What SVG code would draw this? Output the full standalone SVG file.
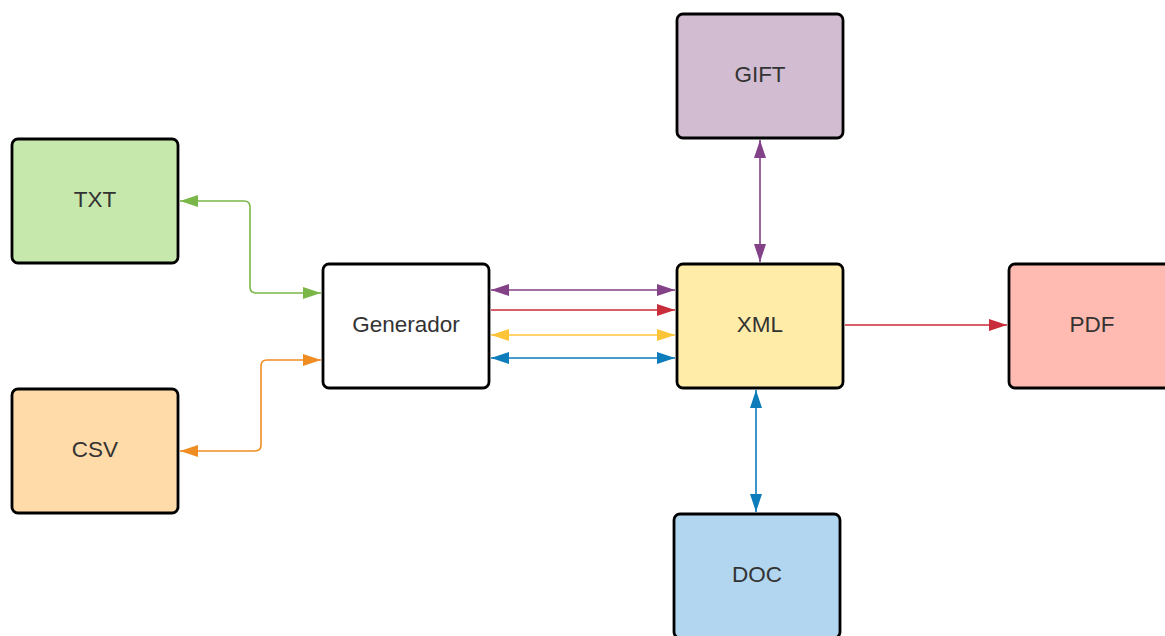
<svg xmlns="http://www.w3.org/2000/svg" width="1165" height="636" viewBox="0 0 1165 636">
<style>
.box{stroke:#000;stroke-width:2.8}
.lbl{font-family:"Liberation Sans",Arial,sans-serif;font-size:22.5px;fill:#333;text-anchor:middle;dominant-baseline:central}
.c{fill:none;stroke-width:1.6}
</style>
<defs>
<marker id="mg" viewBox="0 0 18 12" refX="18" refY="6" markerWidth="18" markerHeight="12" markerUnits="userSpaceOnUse" orient="auto-start-reverse"><path d="M0,0L18,6L0,12Z" fill="#7ab648"/></marker>
<marker id="mo" viewBox="0 0 18 12" refX="18" refY="6" markerWidth="18" markerHeight="12" markerUnits="userSpaceOnUse" orient="auto-start-reverse"><path d="M0,0L18,6L0,12Z" fill="#ef8d22"/></marker>
<marker id="mp" viewBox="0 0 18 12" refX="18" refY="6" markerWidth="18" markerHeight="12" markerUnits="userSpaceOnUse" orient="auto-start-reverse"><path d="M0,0L18,6L0,12Z" fill="#834187"/></marker>
<marker id="mr" viewBox="0 0 18 12" refX="18" refY="6" markerWidth="18" markerHeight="12" markerUnits="userSpaceOnUse" orient="auto-start-reverse"><path d="M0,0L18,6L0,12Z" fill="#c92d39"/></marker>
<marker id="my" viewBox="0 0 18 12" refX="18" refY="6" markerWidth="18" markerHeight="12" markerUnits="userSpaceOnUse" orient="auto-start-reverse"><path d="M0,0L18,6L0,12Z" fill="#fcc438"/></marker>
<marker id="mb" viewBox="0 0 18 12" refX="18" refY="6" markerWidth="18" markerHeight="12" markerUnits="userSpaceOnUse" orient="auto-start-reverse"><path d="M0,0L18,6L0,12Z" fill="#0c7cba"/></marker>
</defs>
<g id="connectors">
<path class="c" stroke="#7ab648" d="M180,201H244Q250,201 250,207V287Q250,293 256,293H321" marker-start="url(#mg)" marker-end="url(#mg)"/>
<path class="c" stroke="#ef8d22" d="M321,360H267Q261,360 261,366V445Q261,451 255,451H180" marker-start="url(#mo)" marker-end="url(#mo)"/>
<path class="c" stroke="#834187" d="M491,290H675" marker-start="url(#mp)" marker-end="url(#mp)"/>
<path class="c" stroke="#c92d39" d="M491,310H675" marker-end="url(#mr)"/>
<path class="c" stroke="#fcc438" d="M491,335H675" marker-start="url(#my)" marker-end="url(#my)"/>
<path class="c" stroke="#0c7cba" d="M491,358H675" marker-start="url(#mb)" marker-end="url(#mb)"/>
<path class="c" stroke="#834187" d="M760,140V262" marker-start="url(#mp)" marker-end="url(#mp)"/>
<path class="c" stroke="#0c7cba" d="M756,390V512" marker-start="url(#mb)" marker-end="url(#mb)"/>
<path class="c" stroke="#c92d39" d="M845,325H1007" marker-end="url(#mr)"/>
</g>
<g id="txt"><rect class="box" x="12" y="139" width="166" height="124" rx="6" fill="#c7e8ac"/><text class="lbl" x="95" y="199">TXT</text></g>
<g id="csv"><rect class="box" x="12" y="389" width="166" height="124" rx="6" fill="#ffdba9"/><text class="lbl" x="95" y="449">CSV</text></g>
<g id="generador"><rect class="box" x="323" y="264" width="166" height="124" rx="6" fill="#fff"/><text class="lbl" x="406" y="324">Generador</text></g>
<g id="xml"><rect class="box" x="677" y="264" width="166" height="124" rx="6" fill="#ffeca9"/><text class="lbl" x="760" y="324">XML</text></g>
<g id="gift"><rect class="box" x="677" y="14" width="166" height="124" rx="6" fill="#d1bcd2"/><text class="lbl" x="760" y="74">GIFT</text></g>
<g id="doc"><rect class="box" x="674" y="514" width="166" height="124" rx="6" fill="#b2d6ef"/><text class="lbl" x="757" y="574">DOC</text></g>
<g id="pdf"><rect class="box" x="1009" y="264" width="166" height="124" rx="6" fill="#ffbbb1"/><text class="lbl" x="1092" y="324">PDF</text></g>
</svg>
